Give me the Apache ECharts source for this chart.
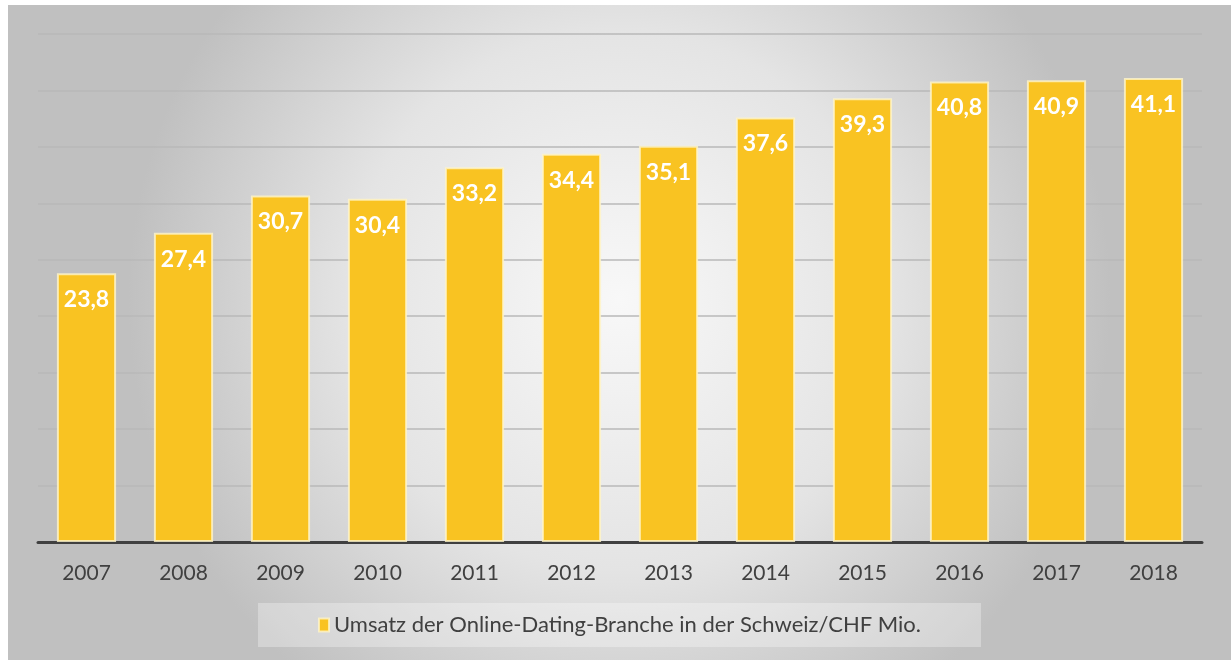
<!DOCTYPE html>
<html>
  <head>
    <meta charset="UTF-8" />
    <title>Umsatz Online-Dating Schweiz</title>
    <style>
      body {
        margin: 0;
        background: #ffffff;
      }
      #chart {
        width: 1223px;
        height: 655px;
        position: absolute;
        left: 8px;
        top: 5px;
      }
    </style>
    <script src="https://cdn.jsdelivr.net/npm/echarts@6/dist/echarts.min.js"></script>
  </head>
  <body>
    <div id="chart"></div>
    <script>
      var years = ["2007", "2008", "2009", "2010", "2011", "2012", "2013", "2014", "2015", "2016", "2017", "2018"];
      var umsatz = [23.8, 27.4, 30.7, 30.4, 33.2, 34.4, 35.1, 37.6, 39.3, 40.8, 40.9, 41.1];
      var seriesName = "Umsatz der Online-Dating-Branche in der Schweiz/CHF Mio.";

      var myChart = echarts.init(document.getElementById("chart"));

      var option = {
        backgroundColor: {
          type: "radial",
          x: 0.5,
          y: 0.45,
          r: 0.75,
          colorStops: [
            { offset: 0, color: "#f8f8f8" },
            { offset: 0.55, color: "#e4e4e4" },
            { offset: 1, color: "#c0c0c0" }
          ]
        },
        textStyle: { fontFamily: "Lato, 'Open Sans', sans-serif" },
        grid: { left: 30, right: 29, top: 29, bottom: 118 },
        legend: {
          data: [seriesName],
          left: "center",
          top: 598,
          padding: [11, 60],
          backgroundColor: "rgba(255,255,255,0.3)",
          itemWidth: 10,
          itemHeight: 13,
          itemGap: 6,
          icon: "rect",
          textStyle: { color: "#404040", fontSize: 22 }
        },
        xAxis: {
          type: "category",
          data: years,
          axisLine: { lineStyle: { color: "#404040", width: 3 } },
          axisTick: { show: false },
          axisLabel: { color: "#404040", fontSize: 21, margin: 21 }
        },
        yAxis: {
          type: "value",
          min: 0,
          max: 45,
          interval: 5,
          axisLabel: { show: false },
          axisLine: { show: false },
          axisTick: { show: false },
          splitLine: { lineStyle: { color: "#b8b8b8", width: 1.5 } }
        },
        series: [
          {
            name: seriesName,
            type: "bar",
            data: umsatz,
            barCategoryGap: "39%",
            itemStyle: {
              color: "#f9c322",
              borderColor: "rgba(255,245,200,0.8)",
              borderWidth: 2
            },
            label: {
              show: true,
              position: "insideTop",
              distance: 15,
              color: "#ffffff",
              fontSize: 23,
              fontWeight: "bold",
              formatter: function (p) {
                return p.value.toFixed(1).replace(".", ",");
              }
            }
          }
        ]
      };

      myChart.setOption(option);
    </script>
  </body>
</html>
